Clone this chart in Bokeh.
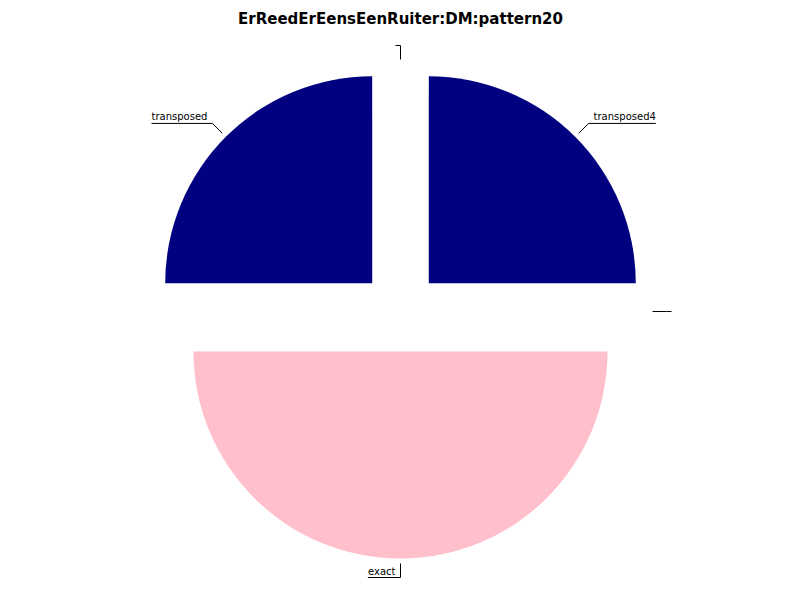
import numpy as np
from bokeh.plotting import figure
from bokeh.models import Range1d, ColumnDataSource
from bokeh.core.properties import value
from bokeh.embed import file_html
from bokeh.resources import INLINE

# ---- data ----
title_text = "ErReedErEensEenRuiter:DM:pattern20"
labels = ["transposed4", "", "transposed", "exact", ""]
values = [1, 0, 1, 2, 0]
slice_colors = ["#000080", "#000080", "#000080", "#FFC0CB", "#FFC0CB"]

# ---- layout ----
W, H = 800, 600
CX, CY = 400, 289
R = 207
EXPLODE = 40
R_LINE0, R_ELBOW, GAP = 252, 266, 5
FONT = "DejaVu Sans"
FS = 10

# DejaVu Sans advance widths (em) for measuring label underline length
ADV = {"t": .392, "r": .411, "a": .613, "n": .634, "s": .521, "p": .635,
       "o": .612, "e": .615, "d": .635, "x": .592, "c": .550, "4": .636}


def text_w(s):
    return sum(ADV.get(ch, .6) for ch in s) * FS


vals = np.array(values, dtype=float)
frac = vals / vals.sum() * 2 * np.pi
ends = np.cumsum(frac)
starts = ends - frac
mids = (starts + ends) / 2

p = figure(width=W, height=H, x_range=Range1d(0, W), y_range=Range1d(0, H),
           output_backend="svg", toolbar_location=None, min_border=0,
           x_axis_location=None, y_axis_location=None)
p.grid.visible = False
p.outline_line_color = None
p.background_fill_color = "white"
p.border_fill_color = "white"

# wedges (exploded)
nz = vals > 0
wx = CX + EXPLODE * np.cos(mids[nz])
wy = CY + EXPLODE * np.sin(mids[nz])
wsrc = ColumnDataSource(dict(x=wx, y=wy, s=starts[nz], e=ends[nz],
                             c=np.array(slice_colors)[nz]))
p.wedge(x="x", y="y", radius=R, start_angle="s", end_angle="e",
        fill_color="c", line_color=None, source=wsrc)

# label leader lines and texts
xs, ys = [], []
tx, ty, tt, ta = [], [], [], []
for lab, m in zip(labels, mids):
    c, s = np.cos(m), np.sin(m)
    x0, y0 = CX + R_LINE0 * c, CY + R_LINE0 * s
    x1, y1 = CX + R_ELBOW * c, CY + R_ELBOW * s
    right = np.round(c, 9) > 0
    d = 1 if right else -1
    x2 = x1 + d * (GAP + text_w(lab))
    xs.append([x0, x1, x2])
    ys.append([y0, y1, y1])
    if lab:
        tx.append(x1 + d * GAP)
        ty.append(y1 + 1)
        tt.append(lab)
        ta.append("left" if right else "right")

p.multi_line(xs=xs, ys=ys, line_color="black", line_width=1)
p.text(x=tx, y=ty, text=tt, text_align=ta, text_baseline="bottom",
       text_font=value(FONT), text_font_size=f"{FS}px", text_color="black")

# title
p.text(x=[W / 2], y=[H - 18], text=[title_text], text_align="center",
       text_baseline="alphabetic", text_font=value(FONT),
       text_font_size="15px", text_font_style="bold", text_color="black")

open("out.html", "w").write(file_html(p, INLINE))
